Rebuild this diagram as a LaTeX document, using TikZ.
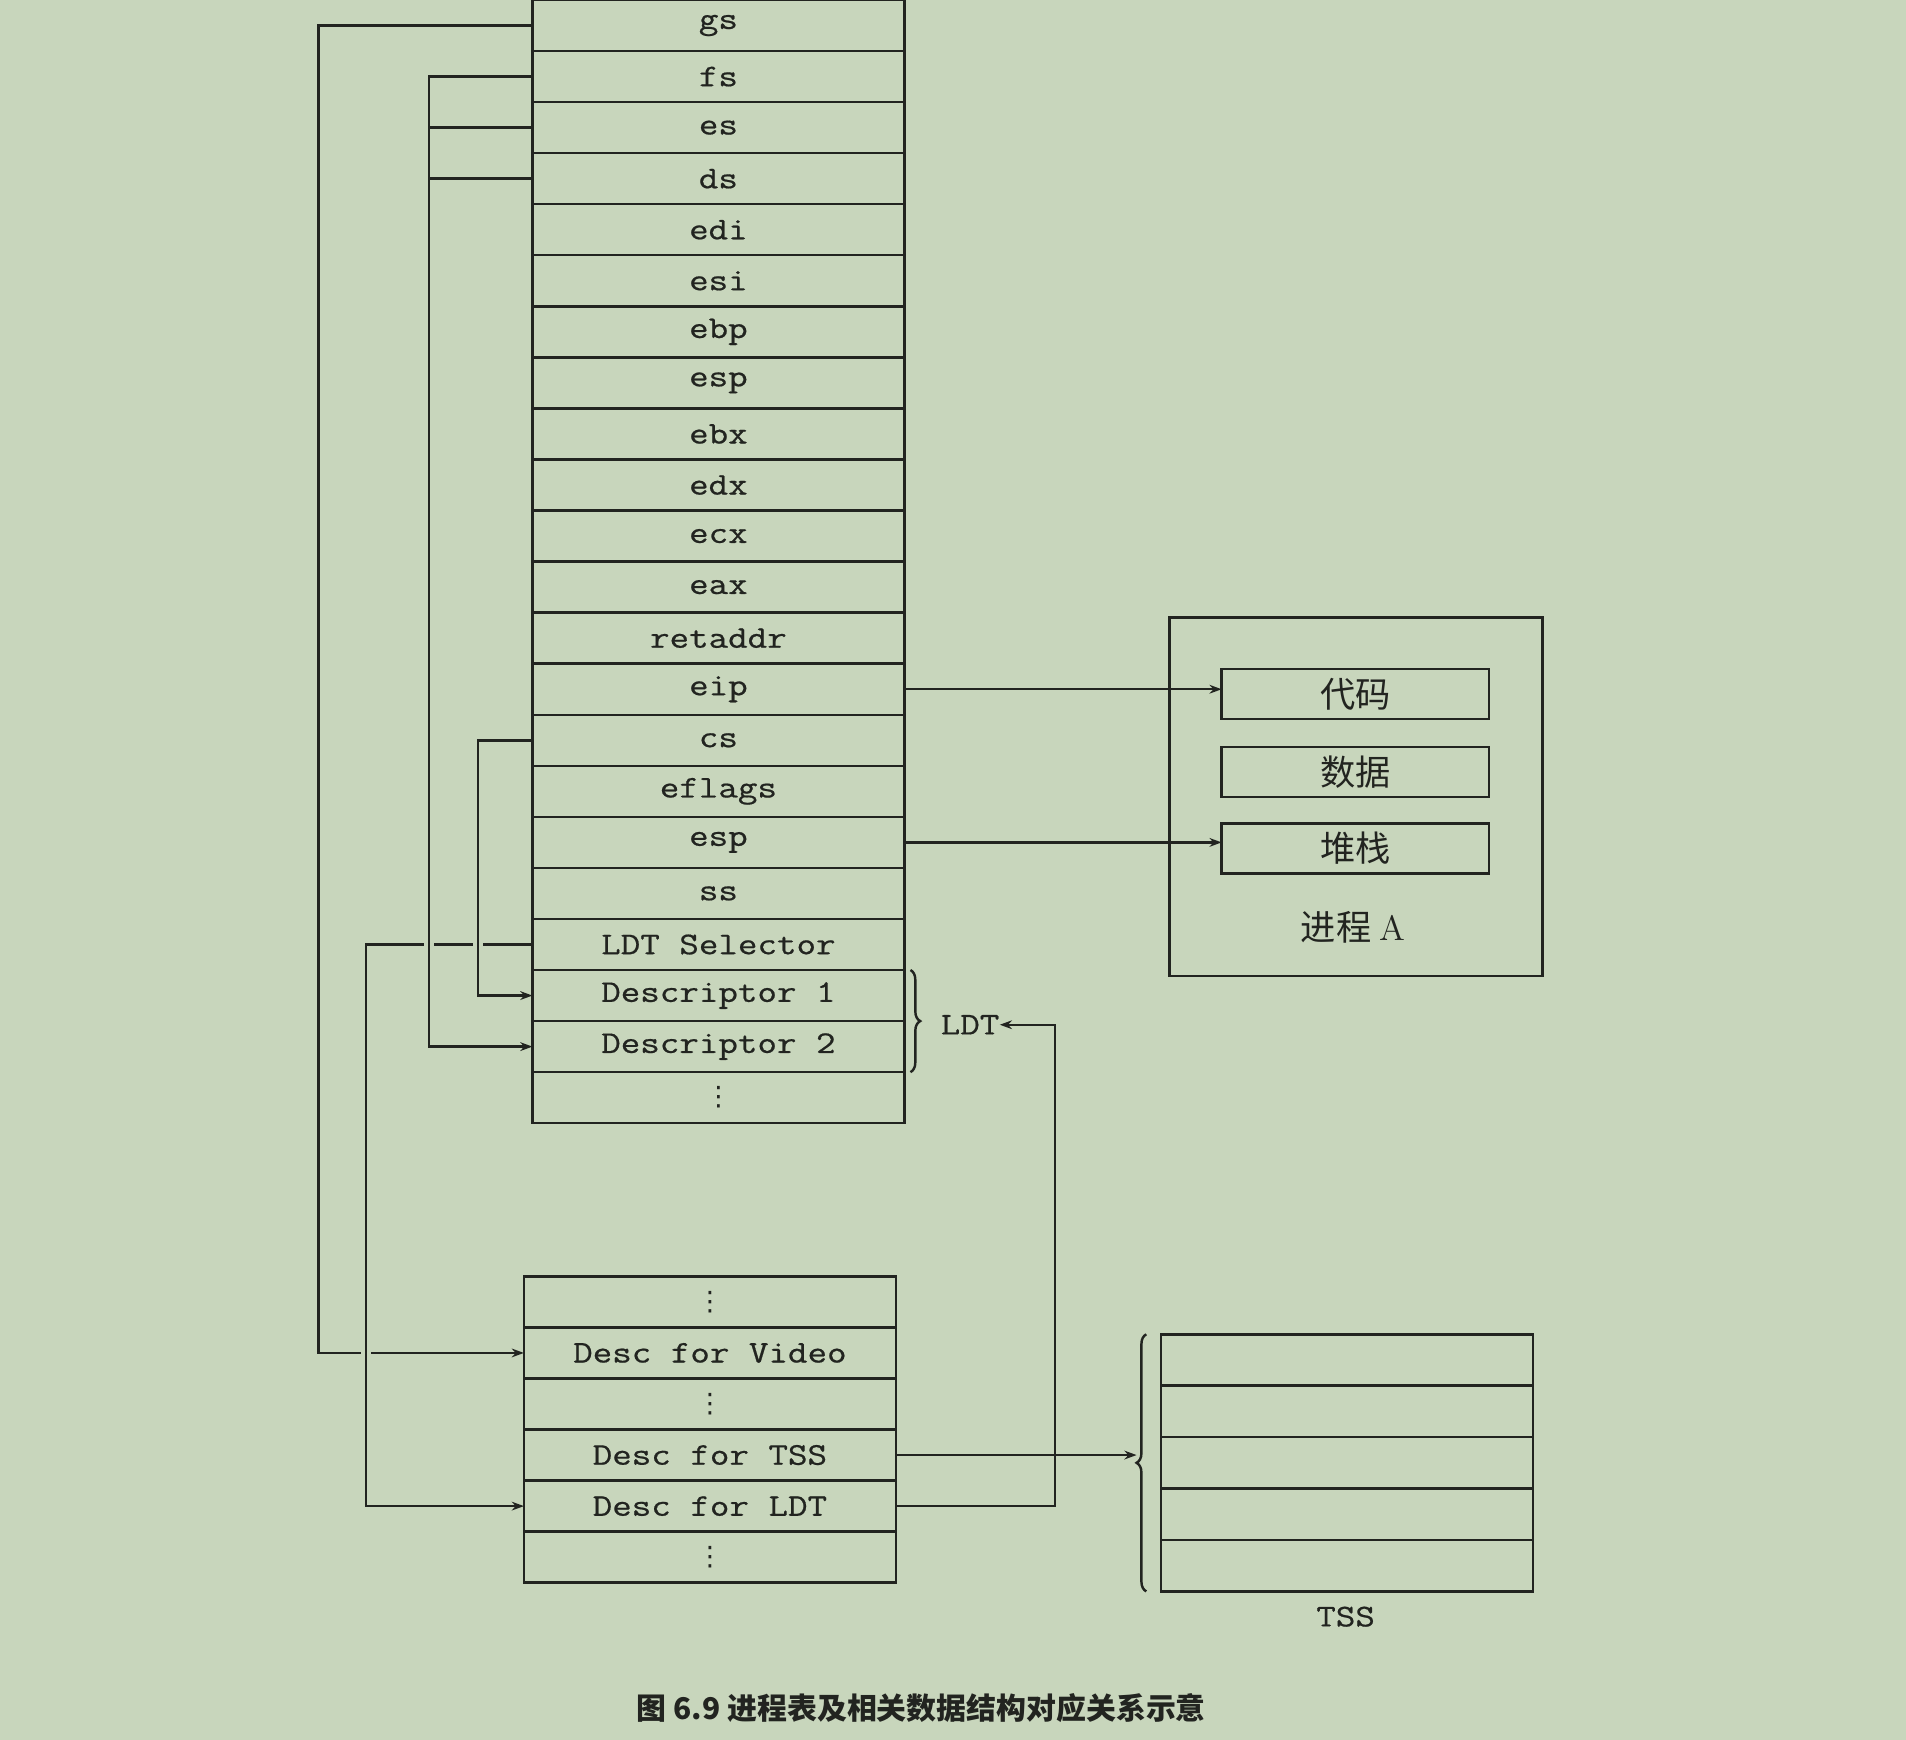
\documentclass[tikz,border=0pt]{standalone}
\usepackage{fontspec}
\setmonofont[Extension=.otf, FakeStretch=1.2, FakeBold=0.6]{lmmono12-regular}
\newfontfamily\cjk{Noto Sans CJK SC}
\newfontfamily\symfont{DejaVu Sans}
\usepackage{tikz}
\usetikzlibrary{arrows.meta,positioning,decorations.pathreplacing,backgrounds}
\usepackage{xcolor}
\definecolor{pagegreen}{RGB}{200,214,188}
\definecolor{ink}{RGB}{34,36,32}
\tikzstyle{reg} = [rectangle, draw=ink, line width=1pt, minimum width=153pt, minimum height=21pt, inner sep=0pt, outer sep=0pt, text=ink, font=\ttfamily\fontsize{13}{14}\selectfont]
\tikzstyle{tssrow} = [reg, minimum height=21.15pt]
\tikzstyle{seg} = [rectangle, draw=ink, line width=1pt, minimum width=110pt, minimum height=20.5pt, inner sep=0pt, outer sep=0pt, text=ink, font=\cjk\fontsize{14.5}{15}\selectfont]
\tikzstyle{lbl} = [text=ink, inner sep=0pt, font=\ttfamily\fontsize{13}{14}\selectfont]
\tikzstyle{link} = [draw=ink, line width=1pt]
\tikzstyle{arrow} = [link,-{Stealth[length=5pt,width=3.6pt]}]
\tikzstyle{gap} = [preaction={draw=pagegreen, line width=4pt, -}]
\tikzstyle{curly} = [link, decorate, decoration={brace, amplitude=4pt}]
\newcommand{\rowdots}{{\symfont\fontsize{11}{12}\selectfont ⋮}}

\begin{document}
\begin{tikzpicture}[x=0.5pt, y=-0.5pt]
\useasboundingbox (0,0) rectangle (1568,1431);

% Process table (stack frame)
\node[reg] (gs) at (591,21) {gs};
\node[reg, below=0pt of gs] (fs) {fs};
\node[reg, below=0pt of fs] (es) {es};
\node[reg, below=0pt of es] (ds) {ds};
\node[reg, below=0pt of ds] (edi) {edi};
\node[reg, below=0pt of edi] (esi) {esi};
\node[reg, below=0pt of esi] (ebp) {ebp};
\node[reg, below=0pt of ebp] (esp) {esp};
\node[reg, below=0pt of esp] (ebx) {ebx};
\node[reg, below=0pt of ebx] (edx) {edx};
\node[reg, below=0pt of edx] (ecx) {ecx};
\node[reg, below=0pt of ecx] (eax) {eax};
\node[reg, below=0pt of eax] (retaddr) {retaddr};
\node[reg, below=0pt of retaddr] (eip) {eip};
\node[reg, below=0pt of eip] (cs) {cs};
\node[reg, below=0pt of cs] (eflags) {eflags};
\node[reg, below=0pt of eflags] (sesp) {esp};
\node[reg, below=0pt of sesp] (ss) {ss};
\node[reg, below=0pt of ss] (ldtsel) {LDT Selector};
\node[reg, below=0pt of ldtsel] (desc1) {Descriptor 1};
\node[reg, below=0pt of desc1] (desc2) {Descriptor 2};
\node[reg, below=0pt of desc2] (ldtmore) {\rowdots};

% LDT brace
\draw[curly] ([xshift=2.5pt]desc1.north east) -- ([xshift=2.5pt]desc2.south east);
\node[lbl] (ldt) at (798,843) {LDT};

% Process A
\node[rectangle, draw=ink, line width=1pt, minimum width=153.5pt, minimum height=147.5pt] (proc) at (1115.5,655.5) {};
\node[seg] (code) at (1115,571) {代码};
\node[seg] (data) at (1115,635) {数据};
\node[seg] (stk) at (1115,698) {堆栈};
\node[text=ink, font=\cjk\fontsize{14.5}{15}\selectfont] (pname) at (1113,763) {进程 {\rmfamily A}};

% GDT
\node[reg] (gtop) at (584,1071) {\rowdots};
\node[reg, below=0pt of gtop] (dvideo) {Desc for Video};
\node[reg, below=0pt of dvideo] (gmid) {\rowdots};
\node[reg, below=0pt of gmid] (dtss) {Desc for TSS};
\node[reg, below=0pt of dtss] (dldt) {Desc for LDT};
\node[reg, below=0pt of dldt] (gbot) {\rowdots};

% TSS
\node[tssrow] (tss1) at (1108,1118.8) {};
\node[tssrow, below=0pt of tss1] (tss2) {};
\node[tssrow, below=0pt of tss2] (tss3) {};
\node[tssrow, below=0pt of tss3] (tss4) {};
\node[tssrow, below=0pt of tss4] (tss5) {};
\draw[curly] ([xshift=-6pt]tss5.south west) -- ([xshift=-6pt]tss1.north west);
\coordinate (tsstip) at ([xshift=-10pt]tss3.west);
\node[lbl] (tsslabel) at (1107,1330) {TSS};

% Caption
\node[text=ink, font=\cjk\bfseries\fontsize{12.3}{13}\selectfont] (caption) at (758,1405) {图 6.9 进程表及相关数据结构对应关系示意};

% Connections
\begin{scope}[on background layer]
\fill[pagegreen] (0,0) rectangle (1568,1431);
\draw[arrow] (gs.west) -- ++(-176,0) |- (dvideo.west);
\draw[arrow, gap] (ldtsel.west) -- ++(-137,0) |- (dldt.west);
\draw[arrow, gap] (fs.west) -- ++(-85,0) |- (desc2.west);
\draw[link] (es.west) -- ++(-85,0);
\draw[link] (ds.west) -- ++(-85,0);
\draw[arrow, gap] (cs.west) -- ++(-45,0) |- (desc1.west);
\draw[arrow] (eip.east) -- (eip.east -| code.west);
\draw[arrow] (sesp.east) -- (sesp.east -| stk.west);
\draw[arrow] (dtss.east) -- (dtss.east -| tsstip);
\draw[arrow] (dldt.east) -- ++(131,0) |- (ldt.east);
\end{scope}
\end{tikzpicture}
\end{document}
